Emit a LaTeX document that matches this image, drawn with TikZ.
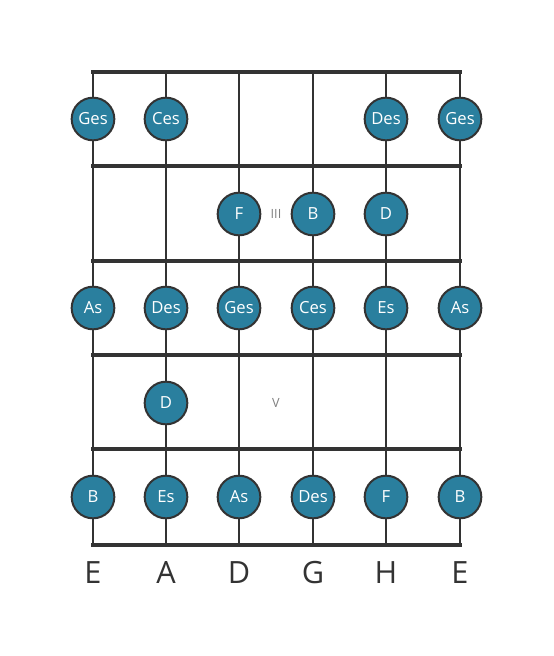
\documentclass[tikz,border=0pt]{standalone}
\usepackage{fontspec}
\setmainfont{Open Sans}
\definecolor{notefill}{RGB}{42,127,158}
\definecolor{boardline}{RGB}{51,51,51}
\tikzset{every picture/.style={line width=0.75pt}}
\tikzset{
  note/.style={circle, draw=boardline, line width=1.5pt, fill=notefill, minimum size=32pt, inner sep=0pt, text=white, font=\fontsize{12.5}{14}\selectfont},
  fretline/.style={draw=boardline, line width=3.6pt},
  stringline/.style={draw=boardline, line width=1.6pt},
  fretmark/.style={text=gray, font=\fontsize{9.5}{11}\selectfont},
  stringname/.style={text=boardline, font=\fontsize{23}{28}\selectfont}
}

\begin{document}
\begin{tikzpicture}[x=0.75pt,y=0.75pt,yscale=-1,xscale=1]
    %set diagram to the full 553 x 656 page
    \path[use as bounding box, fill=white] (0,0) rectangle (553,656);

    %Strings
    \foreach \sx in {93,166,239,313,386,460} {
      \draw [stringline] (\sx,72) -- (\sx,545) ;
    }
    %Frets
    \foreach \fy in {72,166,261,355,449,545} {
      \draw [fretline, line cap=rect] (93,\fy) -- (460,\fy) ;
    }

    %Fret markers
    \node [fretmark] (mark3) at (276,214) {III};
    \node [fretmark] (mark5) at (276,403) {V};

    %Row 1
    \node [note] (r1s6) at (93,119) {Ges};
    \node [note] (r1s5) at (166,119) {Ces};
    \node [note] (r1s2) at (386,119) {Des};
    \node [note] (r1s1) at (460,119) {Ges};
    %Row 2
    \node [note] (r2s4) at (239,214) {F};
    \node [note] (r2s3) at (313,214) {B};
    \node [note] (r2s2) at (386,214) {D};
    %Row 3
    \node [note] (r3s6) at (93,308) {As};
    \node [note] (r3s5) at (166,308) {Des};
    \node [note] (r3s4) at (239,308) {Ges};
    \node [note] (r3s3) at (313,308) {Ces};
    \node [note] (r3s2) at (386,308) {Es};
    \node [note] (r3s1) at (460,308) {As};
    %Row 4
    \node [note] (r4s5) at (166,403) {D};
    %Row 5
    \node [note] (r5s6) at (93,497) {B};
    \node [note] (r5s5) at (166,497) {Es};
    \node [note] (r5s4) at (239,497) {As};
    \node [note] (r5s3) at (313,497) {Des};
    \node [note] (r5s2) at (386,497) {F};
    \node [note] (r5s1) at (460,497) {B};

    % String names
    \node [stringname] (nE6) at (93,573) {E};
    \node [stringname] (nA) at (166,573) {A};
    \node [stringname] (nD) at (239,573) {D};
    \node [stringname] (nG) at (313,573) {G};
    \node [stringname] (nH) at (386,573) {H};
    \node [stringname] (nE1) at (460,573) {E};

\end{tikzpicture}
\end{document}
